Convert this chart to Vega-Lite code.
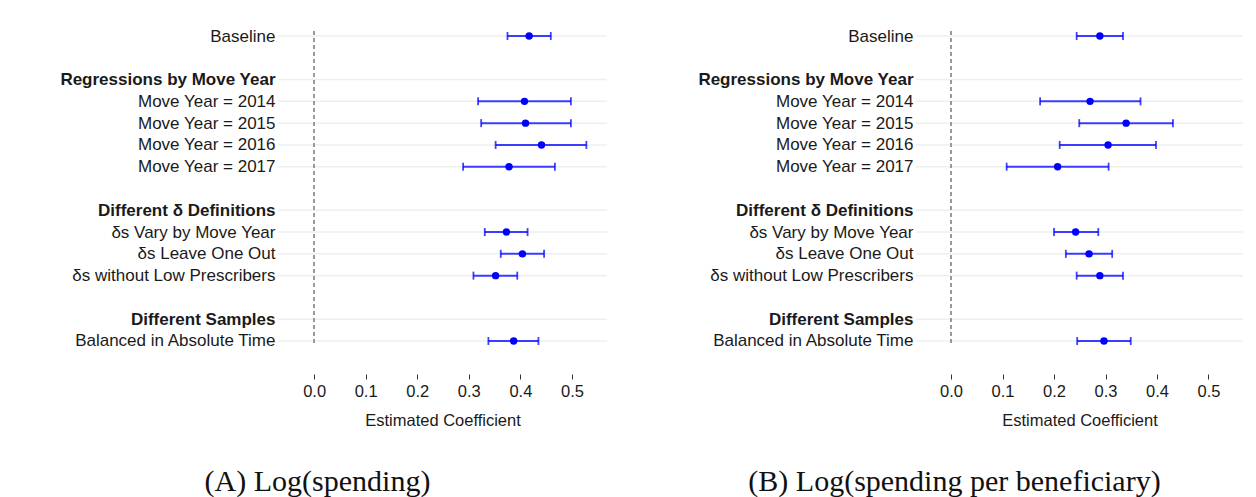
{
  "$schema": "https://vega.github.io/schema/vega-lite/v6.json",
  "padding": {"left": 5, "top": 27, "right": 0, "bottom": 0},
  "background": "white",
  "config": {
    "view": {"stroke": null},
    "font": "Liberation Sans",
    "axis": {"labelFont": "Liberation Sans", "titleFont": "Liberation Sans", "labelColor": "#1a1a1a", "titleColor": "#1a1a1a"}
  },
  "datasets": {
    "spend": [
      {"label": "Baseline", "est": 0.417, "lo": 0.375, "hi": 0.459},
      {"label": "Regressions by Move Year", "est": null, "lo": null, "hi": null},
      {"label": "Move Year = 2014", "est": 0.408, "lo": 0.318, "hi": 0.498},
      {"label": "Move Year = 2015", "est": 0.410, "lo": 0.324, "hi": 0.498},
      {"label": "Move Year = 2016", "est": 0.441, "lo": 0.352, "hi": 0.528},
      {"label": "Move Year = 2017", "est": 0.378, "lo": 0.289, "hi": 0.467},
      {"label": "Different δ Definitions", "est": null, "lo": null, "hi": null},
      {"label": "δs Vary by Move Year", "est": 0.373, "lo": 0.331, "hi": 0.414},
      {"label": "δs Leave One Out\u00a0", "est": 0.404, "lo": 0.362, "hi": 0.446},
      {"label": "δs without Low Prescribers", "est": 0.352, "lo": 0.309, "hi": 0.394},
      {"label": "Different Samples", "est": null, "lo": null, "hi": null},
      {"label": "Balanced in Absolute Time", "est": 0.387, "lo": 0.338, "hi": 0.435}
    ],
    "perBen": [
      {"label": "Baseline", "est": 0.289, "lo": 0.244, "hi": 0.334},
      {"label": "Regressions by Move Year", "est": null, "lo": null, "hi": null},
      {"label": "Move Year = 2014", "est": 0.270, "lo": 0.173, "hi": 0.368},
      {"label": "Move Year = 2015", "est": 0.340, "lo": 0.249, "hi": 0.431},
      {"label": "Move Year = 2016", "est": 0.305, "lo": 0.211, "hi": 0.398},
      {"label": "Move Year = 2017", "est": 0.207, "lo": 0.108, "hi": 0.306},
      {"label": "Different δ Definitions", "est": null, "lo": null, "hi": null},
      {"label": "δs Vary by Move Year", "est": 0.242, "lo": 0.200, "hi": 0.286},
      {"label": "δs Leave One Out\u00a0", "est": 0.268, "lo": 0.223, "hi": 0.313},
      {"label": "δs without Low Prescribers", "est": 0.289, "lo": 0.244, "hi": 0.334},
      {"label": "Different Samples", "est": null, "lo": null, "hi": null},
      {"label": "Balanced in Absolute Time", "est": 0.297, "lo": 0.245, "hi": 0.349}
    ]
  },
  "spacing": 35,
  "hconcat": [
    {
      "width": 329,
      "height": 315,
      "data": {"name": "spend"},
      "title": {"text": "(A) Log(spending)", "orient": "bottom", "anchor": "middle", "frame": "group", "dx": -125, "offset": 38, "font": "Liberation Serif", "fontSize": 30, "fontWeight": "normal", "color": "#111"},
      "layer": [
        {
          "mark": {"type": "rule", "color": "#ebf0f0", "strokeWidth": 1.5},
          "encoding": {
            "y": {"field": "label", "type": "nominal",
              "scale": {"type": "point", "padding": 0.23, "domain": ["Baseline", " ", "Regressions by Move Year", "Move Year = 2014", "Move Year = 2015", "Move Year = 2016", "Move Year = 2017", "  ", "Different δ Definitions", "δs Vary by Move Year", "δs Leave One Out\u00a0", "δs without Low Prescribers", "   ", "Different Samples", "Balanced in Absolute Time"]},
              "axis": {"title": null, "domain": false, "ticks": false, "grid": false, "labelFontSize": 17, "labelPadding": 3, "labelLimit": 0, "minExtent": 273, "maxExtent": 273,
                "labelFontWeight": {"condition": {"test": "indexof(['Regressions by Move Year', 'Different δ Definitions', 'Different Samples'], datum.value) >= 0", "value": "bold"}, "value": "normal"}}}
          }
        },
        {
          "mark": {"type": "rule", "color": "#999999", "strokeWidth": 1, "strokeDash": [4, 3]},
          "encoding": {"x": {"datum": 0, "type": "quantitative"}}
        },
        {
          "transform": [{"filter": "isValid(datum.est)"}],
          "mark": {"type": "rule", "color": "#0000ff", "opacity": 0.75, "strokeWidth": 2},
          "encoding": {
            "y": {"field": "label", "type": "nominal"},
            "x": {"field": "lo", "type": "quantitative", "scale": {"domain": [-0.07, 0.568], "nice": false, "zero": false},
              "axis": {"title": "Estimated Coefficient", "values": [0, 0.1, 0.2, 0.3, 0.4, 0.5], "format": ".1f", "grid": false, "domain": false, "tickSize": 5, "tickColor": "#333", "offset": 28, "labelFontSize": 16.5, "labelPadding": 4, "titleFontSize": 16.5, "titleFontWeight": "normal", "titlePadding": 13}},
            "x2": {"field": "hi"}
          }
        },
        {
          "transform": [{"filter": "isValid(datum.est)"}],
          "mark": {"type": "tick", "color": "#0000ff", "opacity": 0.75, "size": 8, "thickness": 1.8},
          "encoding": {
            "y": {"field": "label", "type": "nominal"},
            "x": {"field": "lo", "type": "quantitative"}
          }
        },
        {
          "transform": [{"filter": "isValid(datum.est)"}],
          "mark": {"type": "tick", "color": "#0000ff", "opacity": 0.75, "size": 8, "thickness": 1.8},
          "encoding": {
            "y": {"field": "label", "type": "nominal"},
            "x": {"field": "hi", "type": "quantitative"}
          }
        },
        {
          "transform": [{"filter": "isValid(datum.est)"}],
          "mark": {"type": "circle", "color": "#0000ff", "opacity": 1, "size": 55},
          "encoding": {
            "y": {"field": "label", "type": "nominal"},
            "x": {"field": "est", "type": "quantitative"}
          }
        }
      ]
    },
    {
      "width": 327,
      "height": 315,
      "data": {"name": "perBen"},
      "title": {"text": "(B) Log(spending per beneficiary)", "orient": "bottom", "anchor": "middle", "frame": "group", "dx": -125, "offset": 38, "font": "Liberation Serif", "fontSize": 30, "fontWeight": "normal", "color": "#111"},
      "layer": [
        {
          "mark": {"type": "rule", "color": "#ebf0f0", "strokeWidth": 1.5},
          "encoding": {
            "y": {"field": "label", "type": "nominal",
              "scale": {"type": "point", "padding": 0.23, "domain": ["Baseline", " ", "Regressions by Move Year", "Move Year = 2014", "Move Year = 2015", "Move Year = 2016", "Move Year = 2017", "  ", "Different δ Definitions", "δs Vary by Move Year", "δs Leave One Out\u00a0", "δs without Low Prescribers", "   ", "Different Samples", "Balanced in Absolute Time"]},
              "axis": {"title": null, "domain": false, "ticks": false, "grid": false, "labelFontSize": 17, "labelPadding": 3, "labelLimit": 0, "minExtent": 273, "maxExtent": 273,
                "labelFontWeight": {"condition": {"test": "indexof(['Regressions by Move Year', 'Different δ Definitions', 'Different Samples'], datum.value) >= 0", "value": "bold"}, "value": "normal"}}}
          }
        },
        {
          "mark": {"type": "rule", "color": "#999999", "strokeWidth": 1, "strokeDash": [4, 3]},
          "encoding": {"x": {"datum": 0, "type": "quantitative"}}
        },
        {
          "transform": [{"filter": "isValid(datum.est)"}],
          "mark": {"type": "rule", "color": "#0000ff", "opacity": 0.75, "strokeWidth": 2},
          "encoding": {
            "y": {"field": "label", "type": "nominal"},
            "x": {"field": "lo", "type": "quantitative", "scale": {"domain": [-0.068, 0.567], "nice": false, "zero": false},
              "axis": {"title": "Estimated Coefficient", "values": [0, 0.1, 0.2, 0.3, 0.4, 0.5], "format": ".1f", "grid": false, "domain": false, "tickSize": 5, "tickColor": "#333", "offset": 28, "labelFontSize": 16.5, "labelPadding": 4, "titleFontSize": 16.5, "titleFontWeight": "normal", "titlePadding": 13}},
            "x2": {"field": "hi"}
          }
        },
        {
          "transform": [{"filter": "isValid(datum.est)"}],
          "mark": {"type": "tick", "color": "#0000ff", "opacity": 0.75, "size": 8, "thickness": 1.8},
          "encoding": {
            "y": {"field": "label", "type": "nominal"},
            "x": {"field": "lo", "type": "quantitative"}
          }
        },
        {
          "transform": [{"filter": "isValid(datum.est)"}],
          "mark": {"type": "tick", "color": "#0000ff", "opacity": 0.75, "size": 8, "thickness": 1.8},
          "encoding": {
            "y": {"field": "label", "type": "nominal"},
            "x": {"field": "hi", "type": "quantitative"}
          }
        },
        {
          "transform": [{"filter": "isValid(datum.est)"}],
          "mark": {"type": "circle", "color": "#0000ff", "opacity": 1, "size": 55},
          "encoding": {
            "y": {"field": "label", "type": "nominal"},
            "x": {"field": "est", "type": "quantitative"}
          }
        }
      ]
    }
  ]
}
